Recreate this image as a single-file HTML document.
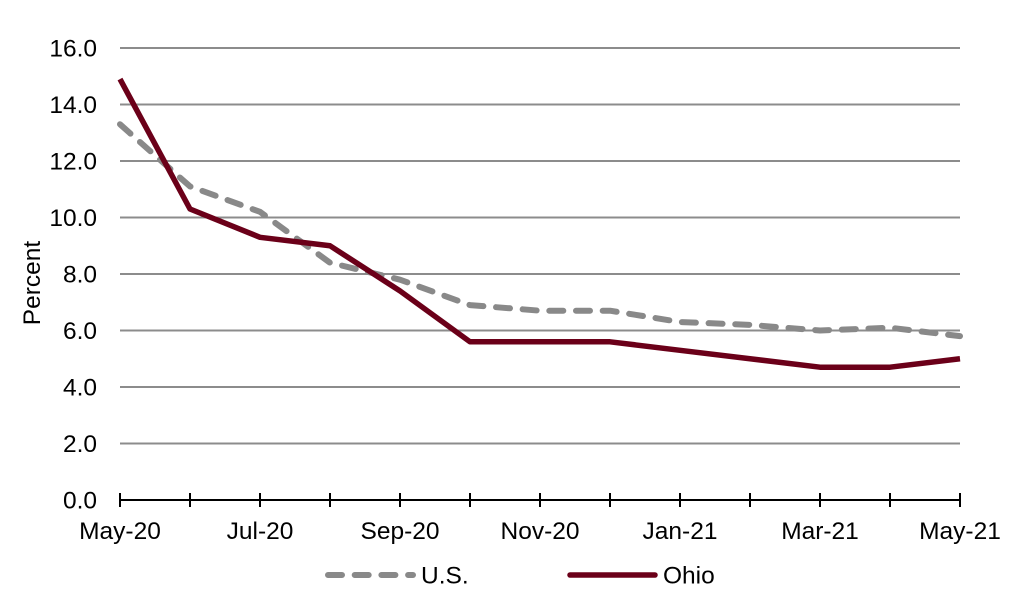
<!DOCTYPE html>
<html><head><meta charset="utf-8"><style>
html,body{margin:0;padding:0;background:#fff;}
svg{display:block;font-family:"Liberation Sans",Arial,sans-serif;}
</style></head><body>
<svg width="1024" height="594" viewBox="0 0 1024 594" xmlns="http://www.w3.org/2000/svg">
<g stroke="#8c8c8c" stroke-width="2">
<line x1="120" y1="48" x2="960" y2="48"/>
<line x1="120" y1="104.5" x2="960" y2="104.5"/>
<line x1="120" y1="161" x2="960" y2="161"/>
<line x1="120" y1="217.5" x2="960" y2="217.5"/>
<line x1="120" y1="274" x2="960" y2="274"/>
<line x1="120" y1="330.5" x2="960" y2="330.5"/>
<line x1="120" y1="387" x2="960" y2="387"/>
<line x1="120" y1="443.5" x2="960" y2="443.5"/>
</g>
<g stroke="#000" stroke-width="2">
<line x1="120" y1="500" x2="960" y2="500"/>
<line x1="120" y1="493" x2="120" y2="507"/>
<line x1="190" y1="493" x2="190" y2="507"/>
<line x1="260" y1="493" x2="260" y2="507"/>
<line x1="330" y1="493" x2="330" y2="507"/>
<line x1="400" y1="493" x2="400" y2="507"/>
<line x1="470" y1="493" x2="470" y2="507"/>
<line x1="540" y1="493" x2="540" y2="507"/>
<line x1="610" y1="493" x2="610" y2="507"/>
<line x1="680" y1="493" x2="680" y2="507"/>
<line x1="750" y1="493" x2="750" y2="507"/>
<line x1="820" y1="493" x2="820" y2="507"/>
<line x1="890" y1="493" x2="890" y2="507"/>
<line x1="960" y1="493" x2="960" y2="507"/>
</g>
<g font-size="24.5" fill="#000" text-anchor="end">
<text x="97" y="56.5">16.0</text>
<text x="97" y="113">14.0</text>
<text x="97" y="169.5">12.0</text>
<text x="97" y="226">10.0</text>
<text x="97" y="282.5">8.0</text>
<text x="97" y="339">6.0</text>
<text x="97" y="395.5">4.0</text>
<text x="97" y="452">2.0</text>
<text x="97" y="508.5">0.0</text>
</g>
<g font-size="24.5" fill="#000" text-anchor="middle">
<text x="120" y="539">May-20</text>
<text x="260" y="539">Jul-20</text>
<text x="400" y="539">Sep-20</text>
<text x="540" y="539">Nov-20</text>
<text x="680" y="539">Jan-21</text>
<text x="820" y="539">Mar-21</text>
<text x="960" y="539">May-21</text>
</g>
<text transform="translate(40,283) rotate(-90)" font-size="24.5" text-anchor="middle" fill="#000">Percent</text>
<polyline fill="none" stroke="#898989" stroke-width="6" stroke-linecap="round" stroke-linejoin="round" stroke-dasharray="14 12.7"
points="120,124.3 190,186.4 260,211.85 330,262.7 400,279.65 470,305.1 540,310.7 610,310.7 680,322 750,324.85 820,330.5 890,327.7 960,336.15"/>
<polyline fill="none" stroke="#6b0019" stroke-width="5.5" stroke-linejoin="round"
points="120,79.1 190,209 260,237.3 330,245.75 400,290.95 470,341.8 540,341.8 610,341.8 680,350.3 750,358.75 820,367.2 890,367.2 960,358.75"/>
<line x1="328" y1="575" x2="413" y2="575" stroke="#898989" stroke-width="6" stroke-linecap="round" stroke-dasharray="14 12.7"/>
<text x="421" y="583.5" font-size="24.5" fill="#000">U.S.</text>
<line x1="570" y1="575" x2="655" y2="575" stroke="#6b0019" stroke-width="5.5" stroke-linecap="round"/>
<text x="663" y="583.5" font-size="24.5" fill="#000">Ohio</text>
</svg>
</body></html>
